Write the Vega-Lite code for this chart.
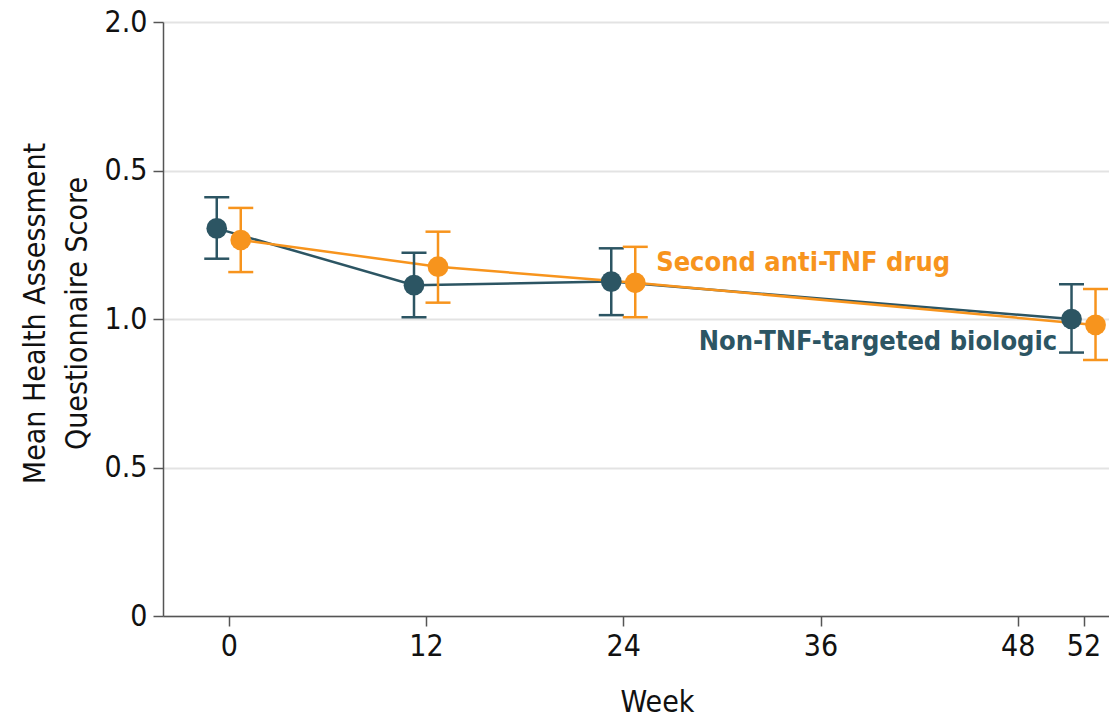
{
  "$schema": "https://vega.github.io/schema/vega-lite/v6.json",
  "width": 946,
  "height": 594,
  "autosize": "none",
  "padding": {"left": 163, "top": 22, "right": 0, "bottom": 102},
  "config": {
    "view": {"stroke": null},
    "font": "DejaVu Sans Condensed"
  },
  "datasets": {
    "haq": [
      {"series": "Non-TNF-targeted biologic", "week": 0, "mean": 1.305, "lo": 1.203, "hi": 1.41},
      {"series": "Non-TNF-targeted biologic", "week": 12, "mean": 1.114, "lo": 1.006, "hi": 1.223},
      {"series": "Non-TNF-targeted biologic", "week": 24, "mean": 1.126, "lo": 1.013, "hi": 1.238},
      {"series": "Non-TNF-targeted biologic", "week": 52, "mean": 1.0, "lo": 0.887, "hi": 1.117},
      {"series": "Second anti-TNF drug", "week": 0, "mean": 1.266, "lo": 1.158, "hi": 1.374},
      {"series": "Second anti-TNF drug", "week": 12, "mean": 1.176, "lo": 1.055, "hi": 1.294},
      {"series": "Second anti-TNF drug", "week": 24, "mean": 1.122, "lo": 1.006, "hi": 1.243},
      {"series": "Second anti-TNF drug", "week": 52, "mean": 0.98, "lo": 0.862, "hi": 1.101}
    ],
    "notes": [
      {"series": "Second anti-TNF drug", "label": "Second anti-TNF drug", "week": 26.0, "score": 1.19},
      {"series": "Non-TNF-targeted biologic", "label": "Non-TNF-targeted biologic", "week": 50.4, "score": 0.923}
    ]
  },
  "layer": [
    {
      "data": {"name": "haq"},
      "transform": [
        {"calculate": "datum.week + (datum.series === 'Second anti-TNF drug' ? 0.73 : -0.73)", "as": "wk"}
      ],
      "layer": [
        {
          "mark": {"type": "line", "strokeWidth": 2.5},
          "encoding": {
            "x": {
              "field": "wk", "type": "quantitative",
              "scale": {"domain": [-4, 53.55], "nice": false, "zero": false},
              "axis": {
                "values": [0, 12, 24, 36, 48, 52],
                "grid": false,
                "domainColor": "#555", "domainWidth": 1.5,
                "tickColor": "#555", "tickWidth": 1.5, "tickSize": 10,
                "labelFontSize": 30, "labelColor": "#111", "labelPadding": 5,
                "labelFlush": false, "labelOverlap": false,
                "title": "Week", "titleFontSize": 30, "titleFontWeight": "normal", "titleColor": "#111",
                "titleX": 494, "titleY": 95, "titleBaseline": "alphabetic", "titleAlign": "center"
              }
            },
            "y": {
              "field": "mean", "type": "quantitative",
              "scale": {"domain": [0, 2], "nice": false},
              "axis": {
                "values": [0, 0.5, 1, 1.5, 2],
                "labelExpr": "datum.value === 0 ? '0' : (datum.value === 1.5 ? '0.5' : format(datum.value, '.1f'))",
                "grid": true, "gridColor": "#e3e3e3", "gridWidth": 2,
                "domainColor": "#555", "domainWidth": 1.5,
                "tickColor": "#555", "tickWidth": 1.5, "tickSize": 10,
                "labelFontSize": 30, "labelColor": "#111", "labelPadding": 6,
                "title": ["Mean Health Assessment", "Questionnaire Score"],
                "titleFontSize": 30, "titleFontWeight": "normal", "titleColor": "#111",
                "titleAngle": -90, "titleX": -119, "titleY": 291,
                "titleAlign": "center", "titleBaseline": "alphabetic", "titleLineHeight": 42
              }
            },
            "color": {
              "field": "series", "type": "nominal",
              "scale": {"domain": ["Non-TNF-targeted biologic", "Second anti-TNF drug"], "range": ["#2c5563", "#f7941d"]},
              "legend": null
            }
          }
        },
        {
          "mark": {"type": "rule", "strokeWidth": 2.5},
          "encoding": {
            "x": {"field": "wk", "type": "quantitative"},
            "y": {"field": "lo", "type": "quantitative"},
            "y2": {"field": "hi"},
            "color": {"field": "series", "type": "nominal"}
          }
        },
        {
          "mark": {"type": "tick", "orient": "horizontal", "size": 25, "thickness": 2.5, "opacity": 1},
          "encoding": {
            "x": {"field": "wk", "type": "quantitative"},
            "y": {"field": "lo", "type": "quantitative"},
            "color": {"field": "series", "type": "nominal"}
          }
        },
        {
          "mark": {"type": "tick", "orient": "horizontal", "size": 25, "thickness": 2.5, "opacity": 1},
          "encoding": {
            "x": {"field": "wk", "type": "quantitative"},
            "y": {"field": "hi", "type": "quantitative"},
            "color": {"field": "series", "type": "nominal"}
          }
        },
        {
          "mark": {"type": "point", "filled": true, "size": 430, "opacity": 1},
          "encoding": {
            "x": {"field": "wk", "type": "quantitative"},
            "y": {"field": "mean", "type": "quantitative"},
            "color": {"field": "series", "type": "nominal"}
          }
        }
      ]
    },
    {
      "data": {"name": "notes"},
      "transform": [{"filter": "datum.series === 'Second anti-TNF drug'"}],
      "mark": {"type": "text", "fontSize": 27, "fontWeight": "bold", "baseline": "middle", "align": "left"},
      "encoding": {
        "x": {"field": "week", "type": "quantitative"},
        "y": {"field": "score", "type": "quantitative"},
        "text": {"field": "label"},
        "color": {"field": "series", "type": "nominal"}
      }
    },
    {
      "data": {"name": "notes"},
      "transform": [{"filter": "datum.series === 'Non-TNF-targeted biologic'"}],
      "mark": {"type": "text", "fontSize": 27, "fontWeight": "bold", "baseline": "middle", "align": "right"},
      "encoding": {
        "x": {"field": "week", "type": "quantitative"},
        "y": {"field": "score", "type": "quantitative"},
        "text": {"field": "label"},
        "color": {"field": "series", "type": "nominal"}
      }
    }
  ]
}
